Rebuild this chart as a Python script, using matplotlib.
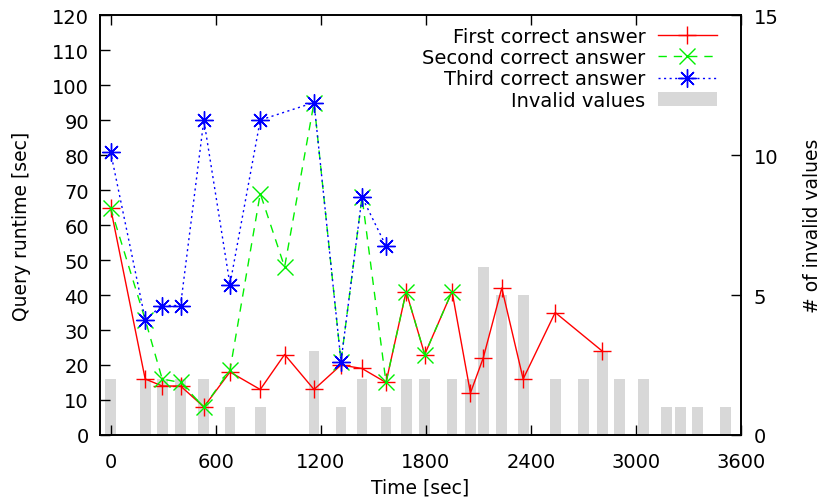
import numpy as np
import matplotlib
matplotlib.use('Agg')
import matplotlib.pyplot as plt
from matplotlib.patches import Patch

# query times [sec] and runtimes of the answers [sec]
t_first = [0, 198, 295, 400, 533, 682, 855, 994, 1162, 1316, 1436, 1573,
           1688, 1794, 1950, 2055, 2128, 2234, 2356, 2539, 2807]
first = [65, 16, 14, 14, 8, 18, 13, 23, 13, 20, 19, 15,
         41, 23, 41, 12, 22, 42, 16, 35, 24]

t_second = [0, 198, 295, 400, 533, 682, 855, 994, 1162, 1316, 1436, 1573,
            1688, 1794, 1950]
second = [65, 33, 16, 15, 8, 18.5, 69, 48, 95, 21, 68, 15, 41, 23, 41]

t_third = [0, 198, 295, 400, 533, 682, 855, 1162, 1316, 1436, 1573]
third = [81, 33, 37, 37, 90, 43, 90, 95, 21, 68, 54]

# invalid values per query
t_invalid = [0, 198, 295, 400, 533, 682, 855, 1162, 1316, 1436, 1573, 1688,
             1794, 1950, 2055, 2128, 2234, 2356, 2539, 2700, 2807, 2906,
             3043, 3174, 3254, 3351, 3511]
invalid = [2, 2, 2, 2, 2, 1, 1, 3, 1, 2, 1, 2,
           2, 2, 2, 6, 5, 5, 2, 2, 3, 2,
           2, 1, 1, 1, 1]

plt.rcParams['font.family'] = 'DejaVu Sans'
plt.rcParams['font.size'] = 14

fig = plt.figure(figsize=(8.23, 5.02), dpi=100)
ax = fig.add_axes([0.1215, 0.1315, 0.7789, 0.8365])
ax2 = ax.twinx()

bar_col = '#d8d8d8'
ax2.bar(t_invalid, invalid, width=62, color=bar_col, linewidth=0)
ax2.set_ylim(0, 15)
ax2.set_yticks([0, 5, 10, 15])
ax2.set_ylabel('# of invalid values', labelpad=18, fontsize=13.5)

ax.set_zorder(ax2.get_zorder() + 1)
ax.patch.set_visible(False)

asterisk = (8, 2, 0)
l1, = ax.plot(t_first, first, color='#ff0000', lw=1, marker='+', ms=13, mew=1,
              label='First correct answer')
l2, = ax.plot(t_second, second, color='#00f000', lw=1, ls=(0, (6, 5)), marker='x',
              ms=11, mew=1, label='Second correct answer')
l3, = ax.plot(t_third, third, color='#0000ff', lw=1, ls=(0, (1.5, 2.5)),
              marker=asterisk, ms=13, mew=1, label='Third correct answer')

ax.set_xlim(-60, 3600)
ax.set_ylim(0, 120)
ax.set_xticks(np.arange(0, 3601, 600))
ax.set_yticks(np.arange(0, 121, 10))
ax.set_xlabel('Time [sec]', labelpad=5, fontsize=13.5)
ax.set_ylabel('Query runtime [sec]', labelpad=15, fontsize=13.5)

ax.tick_params(axis='y', direction='in', length=7, width=1, pad=8)
ax.tick_params(axis='x', direction='in', length=7, width=1, top=True, pad=12)
ax2.tick_params(axis='y', direction='in', length=7, width=1, pad=9)
ax2.tick_params(axis='x', top=False)
for s in list(ax.spines.values()) + list(ax2.spines.values()):
    s.set_linewidth(1.2)

bar_handle = Patch(facecolor=bar_col, edgecolor='none', label='Invalid values')
ax.legend(handles=[l1, l2, l3, bar_handle], loc='upper right',
          bbox_to_anchor=(0.98, 1.0), frameon=False, markerfirst=False,
          handlelength=3.0, handleheight=0.7, labelspacing=0.12,
          handletextpad=0.65, borderaxespad=0.2, fontsize=14)

fig.savefig('out.png', dpi=100)
